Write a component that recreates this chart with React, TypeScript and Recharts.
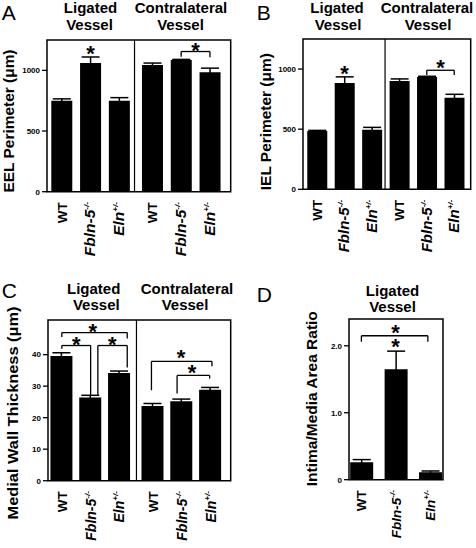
import React from 'react'
import {
  BarChart,
  Bar,
  XAxis,
  YAxis,
  ErrorBar,
  ReferenceLine,
  ReferenceArea,
  ReferenceDot,
  Label,
} from 'recharts'

// ─── Data ──────────────────────────────────────────────────────────────────────

const genotypes = ['WT', 'Fbln-5', 'Eln']
const genotypeSup = ['', '-/-', '+/-']
const genotypeItalic = [false, true, true]

// ligated WT, Fbln-5, Eln, then contralateral WT, Fbln-5, Eln
const eelMean = [750, 1060, 750, 1045, 1085, 985]
const eelSem = [15, 50, 25, 15, 5, 33]
const ielMean = [485, 885, 495, 900, 935, 762]
const ielSem = [5, 50, 20, 18, 5, 28]
const wallMean = [39.6, 26.4, 34.2, 23.7, 25.2, 28.9]
const wallSem = [1.0, 0.7, 0.6, 0.8, 0.7, 0.7]
// ligated only
const ratioMean = [0.26, 1.65, 0.11]
const ratioSem = [0.04, 0.27, 0.02]

const eelTicks = [0, 500, 1000]
const ielTicks = [0, 500, 1000]
const wallTicks = [0, 10, 20, 30, 40]
const ratioTicks = [0, 1, 2]

// significance brackets: [xFrom, xTo, top, leftFoot, rightFoot]
const eelBrackets = [[4.15, 5.15, 1155, 1112, 1107]]
const ielBrackets = [[4, 5, 990, 951, 951]]
const wallBrackets = [
  [0, 2.27, 47.0, 45.6, 45.1],
  [0, 1, 42.9, 41.9, 27.1],
  [1.25, 2.27, 42.9, 27.1, 35.9],
  [3.11, 5.21, 37.9, 28.7, 36.3],
  [4.0, 5.13, 33.4, 27.7, 32.4],
]
const ratioBrackets = [[0, 1.93, 2.15, 2.06, 2.06]]

// asterisks: [x, y]
const eelStars = [[1, 1177], [4.65, 1204]]
const ielStars = [[1, 998], [4.5, 1053]]
const wallStars = [[1.07, 48.7], [0.5, 44.7], [1.75, 44.7], [4.14, 40.5], [4.52, 35.7]]
const ratioStars = [[0.99, 2.26], [0.99, 2.05]]

// ─── Helpers ───────────────────────────────────────────────────────────────────

const FONT = '"Liberation Sans", Arial, Helvetica, sans-serif'
const PAD_TOP = 32

const slots = (n: number, gap: number) =>
  Array.from({ length: n }, (_, i) => i + (i >= 3 ? gap : 0))

function GenoTick({ x, y, index, italicSize = 14 }: {
  x?: number
  y?: number
  index?: number
  italicSize?: number
}) {
  const g = (index ?? 0) % 3
  const italic = genotypeItalic[g]
  return (
    <g transform={`translate(${x},${y}) rotate(-90)`}>
      <text
        x={-10.5}
        y={5}
        textAnchor="end"
        fontSize={italic ? italicSize : 13.5}
        fontWeight={700}
        fontStyle={italic ? 'italic' : 'normal'}
        fill="#000"
      >
        {genotypes[g]}
        {genotypeSup[g] && (
          <tspan dy={-6} fontSize={8}>{genotypeSup[g]}</tspan>
        )}
      </text>
    </g>
  )
}

type PanelProps = {
  box: [number, number, number, number]
  mean: number[]
  sem: number[]
  xs: number[]
  xDomain: [number, number]
  divider?: number
  yDomain: [number, number]
  yTicks: number[]
  fmt?: (v: number) => string
  brackets: number[][]
  stars: number[][]
  barSize: number
  italicSize: number
  yTitle: string
  titleX: number
  titleY: number
  titleLen: number
}

function Panel(p: PanelProps) {
  const [bx0, bx1, by0, by1] = p.box
  const left = bx0 - 46
  const top = by0 - PAD_TOP
  const width = bx1 - bx0 + 50
  const height = by1 - by0 + PAD_TOP + 80
  const rows = p.mean.map((v, i) => ({ x: p.xs[i], v, e: p.sem[i] }))
  const line = { stroke: '#000', strokeWidth: 1.3, ifOverflow: 'visible' as const }

  return (
    <div style={{ position: 'absolute', left, top }}>
      <BarChart width={width} height={height} data={rows} margin={{ top: PAD_TOP, right: 4, bottom: 0, left: 0 }}>
        <XAxis
          type="number"
          dataKey="x"
          domain={p.xDomain}
          ticks={p.xs}
          interval={0}
          allowDataOverflow
          axisLine={false}
          tickLine={false}
          tickSize={0}
          tickMargin={0}
          height={80}
          tick={<GenoTick italicSize={p.italicSize} />}
        />
        <YAxis
          type="number"
          domain={p.yDomain}
          ticks={p.yTicks}
          allowDataOverflow
          width={46}
          axisLine={false}
          tickLine={{ stroke: '#000', strokeWidth: 1.3 }}
          tickSize={5}
          tickMargin={2}
          tickFormatter={p.fmt}
          tick={{ fontSize: 8, fontWeight: 700, fill: '#000' }}
        >
          <Label
            content={() => {
              const cx = p.titleX - left
              const cy = p.titleY - top
              return (
                <text
                  transform={`translate(${cx},${cy}) rotate(-90)`}
                  textAnchor="middle"
                  fontSize={15}
                  fontWeight={700}
                  fill="#000"
                  textLength={p.titleLen}
                  lengthAdjust="spacingAndGlyphs"
                >
                  {p.yTitle}
                </text>
              )
            }}
          />
        </YAxis>
        <ReferenceArea
          x1={p.xDomain[0]}
          x2={p.xDomain[1]}
          y1={p.yDomain[0]}
          y2={p.yDomain[1]}
          fill="none"
          stroke="#000"
          strokeWidth={1.5}
          ifOverflow="visible"
        />
        {p.divider != null && <ReferenceLine x={p.divider} stroke="#000" strokeWidth={1.2} />}
        <Bar dataKey="v" fill="#000" barSize={p.barSize} isAnimationActive={false}>
          <ErrorBar dataKey="e" direction="y" width={9} stroke="#000" strokeWidth={1.5} />
        </Bar>
        {p.brackets.flatMap(([a, b, t, l, r], i) => [
          <ReferenceLine key={`h${i}`} segment={[{ x: a, y: t }, { x: b, y: t }]} {...line} />,
          <ReferenceLine key={`l${i}`} segment={[{ x: a, y: t }, { x: a, y: l }]} {...line} />,
          <ReferenceLine key={`r${i}`} segment={[{ x: b, y: t }, { x: b, y: r }]} {...line} />,
        ])}
        {p.stars.map(([sx, sy], i) => (
          <ReferenceDot
            key={`s${i}`}
            x={sx}
            y={sy}
            ifOverflow="visible"
            shape={(d: { cx?: number; cy?: number }) => (
              <text x={d.cx} y={(d.cy ?? 0) + 12} textAnchor="middle" fontSize={22} fontWeight={700} fill="#000">
                *
              </text>
            )}
          />
        ))}
      </BarChart>
    </div>
  )
}

// ─── Figure ────────────────────────────────────────────────────────────────────

const letterStyle = { fontSize: 21, fill: '#000' }
const headStyle = { fontSize: 15, fontWeight: 700, fill: '#000' }

export default function App() {
  const xsA = slots(6, 0.15)
  const xsB = slots(6, 0)
  const xsC = slots(6, 0.16)
  const xsD = slots(3, 0)

  return (
    <div
      style={{
        position: 'absolute',
        left: 0,
        top: 0,
        width: 476,
        height: 548,
        background: '#fff',
        fontFamily: FONT,
        overflow: 'hidden',
      }}
    >
      <Panel
        box={[47.3, 231, 40, 191.7]}
        mean={eelMean}
        sem={eelSem}
        xs={xsA}
        xDomain={[-0.51, 5.87]}
        divider={2.53}
        yDomain={[0, 1250]}
        yTicks={eelTicks}
        brackets={eelBrackets}
        stars={eelStars}
        barSize={21}
        italicSize={15.5}
        yTitle="EEL Perimeter (μm)"
        titleX={14}
        titleY={121}
        titleLen={143}
      />
      <Panel
        box={[303.3, 471, 39, 189.3]}
        mean={ielMean}
        sem={ielSem}
        xs={xsB}
        xDomain={[-0.51, 5.6]}
        divider={2.48}
        yDomain={[0, 1250]}
        yTicks={ielTicks}
        brackets={ielBrackets}
        stars={ielStars}
        barSize={20}
        italicSize={15}
        yTitle="IEL Perimeter (μm)"
        titleX={271}
        titleY={121.7}
        titleLen={137}
      />
      <Panel
        box={[48.3, 231, 320, 480.7]}
        mean={wallMean}
        sem={wallSem}
        xs={xsC}
        xDomain={[-0.48, 5.86]}
        divider={2.59}
        yDomain={[0, 51]}
        yTicks={wallTicks}
        brackets={wallBrackets}
        stars={wallStars}
        barSize={22}
        italicSize={14}
        yTitle="Medial Wall Thickness (μm)"
        titleX={18}
        titleY={413}
        titleLen={213}
      />
      <Panel
        box={[349.3, 443.3, 319.3, 480]}
        mean={ratioMean}
        sem={ratioSem}
        xs={xsD}
        xDomain={[-0.36, 2.37]}
        yDomain={[0, 2.4]}
        yTicks={ratioTicks}
        fmt={(v) => (v === 0 ? '0' : v.toFixed(1))}
        brackets={ratioBrackets}
        stars={ratioStars}
        barSize={23}
        italicSize={13.5}
        yTitle="Intima/Media Area Ratio"
        titleX={317.3}
        titleY={399}
        titleLen={175}
      />

      <svg width={476} height={548} style={{ position: 'absolute', left: 0, top: 0, pointerEvents: 'none' }}>
        <text x={1.7} y={20} {...letterStyle}>A</text>
        <text x={256.7} y={20} {...letterStyle}>B</text>
        <text x={1.7} y={298} {...letterStyle}>C</text>
        <text x={256.7} y={301.5} {...letterStyle}>D</text>

        <g textAnchor="middle" {...headStyle}>
          <text x={90.5} y={13}>Ligated</text>
          <text x={89.5} y={29.5}>Vessel</text>
          <text x={181} y={13}>Contralateral</text>
          <text x={180.5} y={29.5}>Vessel</text>

          <text x={337} y={13.3}>Ligated</text>
          <text x={338} y={30}>Vessel</text>
          <text x={427} y={13.3}>Contralateral</text>
          <text x={428} y={30}>Vessel</text>

          <text x={93.7} y={294}>Ligated</text>
          <text x={96.3} y={310}>Vessel</text>
          <text x={187} y={294}>Contralateral</text>
          <text x={185} y={310}>Vessel</text>

          <text x={392.5} y={296}>Ligated</text>
          <text x={392.5} y={312}>Vessel</text>
        </g>
      </svg>
    </div>
  )
}
